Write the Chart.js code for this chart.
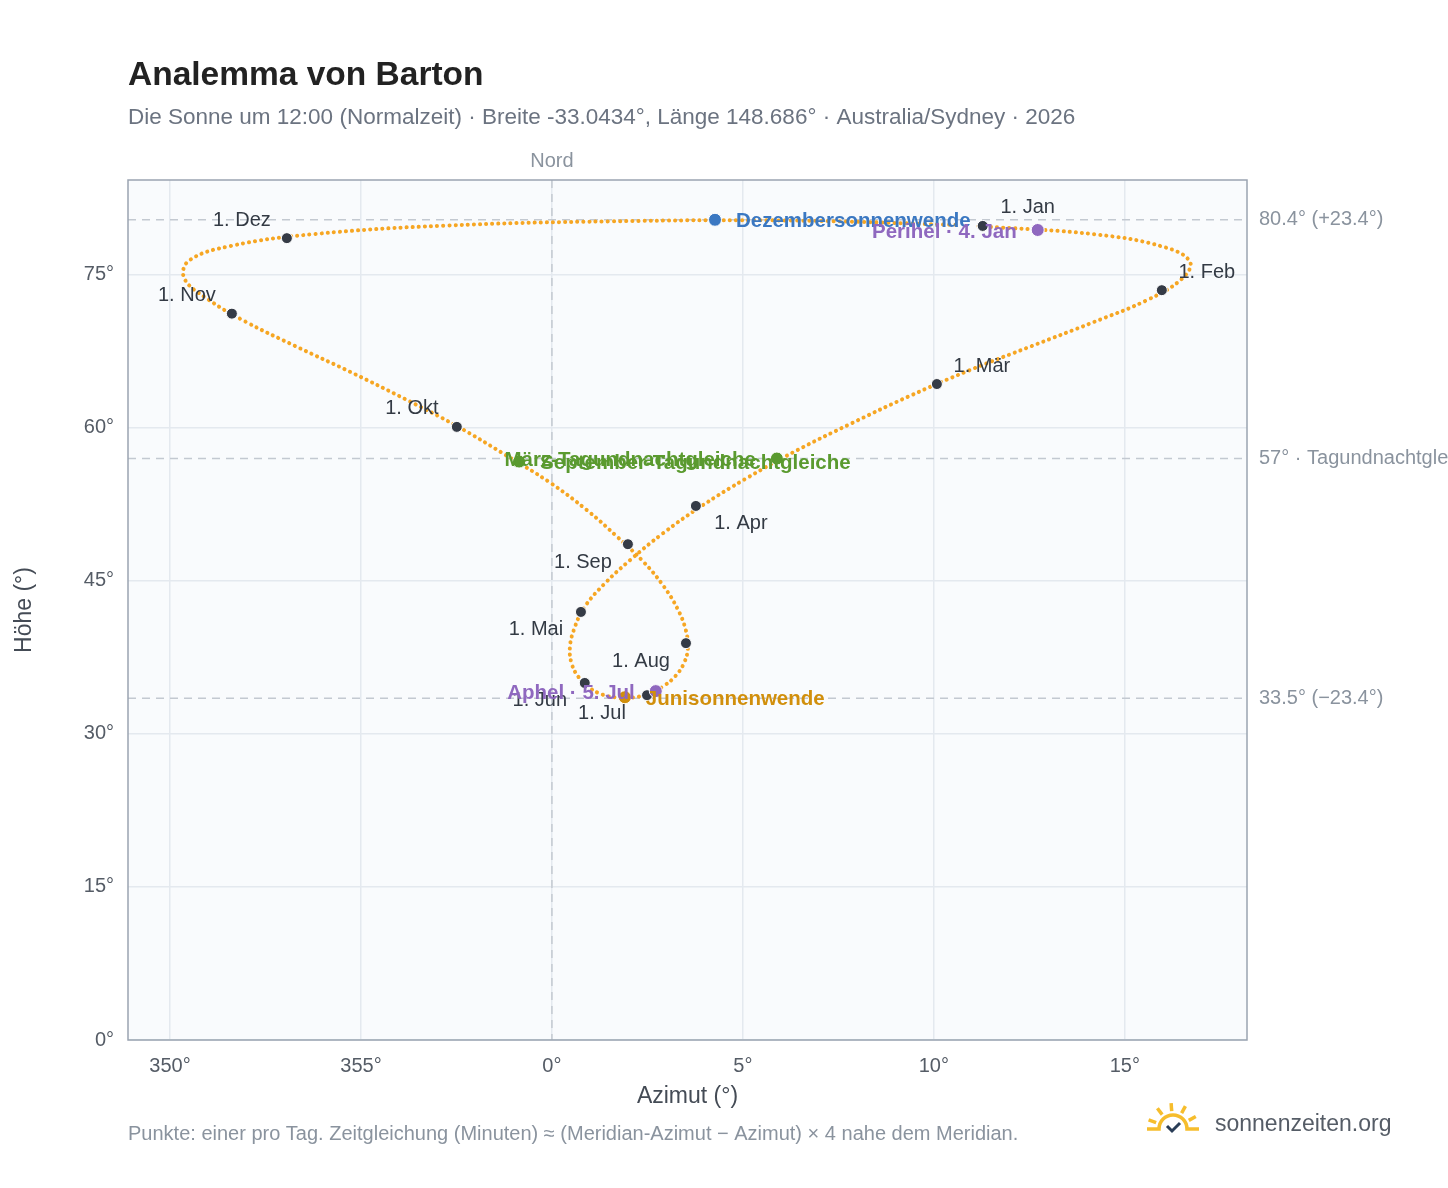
<!DOCTYPE html>
<html>
<head>
<meta charset="utf-8">
<script src="https://cdn.jsdelivr.net/npm/chart.js@4.4.1/dist/chart.umd.min.js"></script>
<style>
  html, body { margin: 0; padding: 0; background: #fff; }
  #wrap { width: 1448px; height: 1188px; }
</style>
</head>
<body>
<div id="wrap"><canvas id="chart" width="1448" height="1188"></canvas></div>
<script>
// Sun position at 12:00, weekly samples (azimuth signed: negative = west of north)
const sampleDates = ["1.1","8.1","15.1","22.1","29.1","5.2","12.2","19.2","26.2","5.3","12.3","19.3","26.3",
  "2.4","9.4","16.4","23.4","30.4","7.5","14.5","21.5","28.5","4.6","11.6","18.6","25.6",
  "2.7","9.7","16.7","23.7","30.7","6.8","13.8","20.8","27.8","3.9","10.9","17.9","24.9",
  "1.10","8.10","15.10","22.10","29.10","5.11","12.11","19.11","26.11","3.12","10.12","17.12","24.12","31.12"];
const azimuth = [11.17,14.23,16.04,16.71,16.47,15.58,14.17,12.56,10.92,9.34,7.84,6.42,5.09,
  3.90,2.89,2.05,1.36,0.84,0.58,0.47,0.52,0.70,0.97,1.32,1.72,2.11,
  2.54,2.91,3.23,3.46,3.56,3.50,3.29,2.93,2.40,1.70,0.91,-0.06,-1.22,
  -2.48,-3.83,-5.27,-6.73,-8.02,-9.03,-9.63,-9.50,-8.39,-6.25,-2.79,1.57,6.24,10.62];
const altitude = [79.78,78.97,77.72,76.25,74.53,72.52,70.35,68.02,65.63,63.08,60.44,57.81,55.05,
  52.30,49.62,47.05,44.66,42.36,40.26,38.46,36.86,35.56,34.56,33.86,33.56,33.56,
  33.96,34.66,35.66,36.96,38.46,40.26,42.26,44.46,46.86,49.36,51.96,54.66,57.36,
  60.16,62.80,65.47,68.04,70.41,72.67,74.69,76.41,77.85,78.99,79.83,80.25,80.33,79.90];

// first of each month
const monthLabels = ["1. Jan","1. Feb","1. Mär","1. Apr","1. Mai","1. Jun","1. Jul","1. Aug","1. Sep","1. Okt","1. Nov","1. Dez"];
const monthAz = [11.28,15.97,10.08,3.77,0.76,0.86,2.49,3.51,1.99,-2.49,-8.38,-6.94];
const monthAlt = [79.8,73.5,64.3,52.35,41.96,35.0,33.8,38.9,48.6,60.1,71.2,78.6];
const monthSide = [[1,-1],[1,-1],[1,-1],[1,1],[-1,1],[-1,1],[-1,1],[-1,1],[-1,1],[-1,-1],[-1,-1],[-1,-1]];

// special events
const eventLabels = ["Dezembersonnenwende","Perihel · 4. Jan","März-Tagundnachtgleiche","September-Tagundnachtgleiche","Aphel · 5. Jul","Junisonnenwende"];
const eventAz = [4.27,12.72,5.89,-0.86,2.72,1.91];
const eventAlt = [80.4,79.4,57.0,56.7,34.2,33.6];
const eventColors = ["#3b78c2","#8f68bf","#5a9a2f","#5a9a2f","#8f68bf","#d18f0c"];
const eventAlign = ["left","right","right","left","right","left"];

// reference lines
const refAlt = [80.4, 57.0, 33.5];
const refText = ["80.4° (+23.4°)", "57° · Tagundnachtgleiche", "33.5° (−23.4°)"];

const FONT = "'Liberation Sans', Arial, sans-serif";

const decor = {
  id: "decor",
  beforeDraw(chart) {
    const { ctx, chartArea: a } = chart;
    ctx.save();
    ctx.fillStyle = "#f9fbfd";
    ctx.fillRect(a.left, a.top, a.right - a.left, a.bottom - a.top);
    ctx.restore();
  },
  beforeDatasetsDraw(chart) {
    const { ctx, chartArea: a, scales: { x, y } } = chart;
    ctx.save();
    ctx.strokeStyle = "#c3c9d1";
    ctx.lineWidth = 1.5;
    ctx.setLineDash([8, 6]);
    refAlt.forEach(v => {
      const py = y.getPixelForValue(v);
      ctx.beginPath(); ctx.moveTo(a.left, py); ctx.lineTo(a.right, py); ctx.stroke();
    });
    const px0 = x.getPixelForValue(0);
    ctx.beginPath(); ctx.moveTo(px0, a.top); ctx.lineTo(px0, a.bottom); ctx.stroke();
    ctx.setLineDash([]);
    ctx.strokeStyle = "#9aa4b1";
    ctx.lineWidth = 1.5;
    ctx.strokeRect(a.left, a.top, a.right - a.left, a.bottom - a.top);

    ctx.fillStyle = "#8a939e";
    ctx.font = "20px " + FONT;
    ctx.textBaseline = "middle";
    ctx.textAlign = "left";
    refAlt.forEach((v, i) => ctx.fillText(refText[i], a.right + 12, y.getPixelForValue(v)));
    ctx.textAlign = "center";
    ctx.fillText("Nord", px0, a.top - 19);
    ctx.restore();
  },
  afterDatasetsDraw(chart) {
    const { ctx, chartArea: a, scales: { x, y } } = chart;
    ctx.save();
    ctx.textBaseline = "middle";
    ctx.textAlign = "center";
    ctx.font = "20px " + FONT;
    ctx.fillStyle = "#333a44";
    monthLabels.forEach((t, i) => {
      const px = x.getPixelForValue(monthAz[i]), py = y.getPixelForValue(monthAlt[i]);
      ctx.fillText(t, px + monthSide[i][0] * 45, py + monthSide[i][1] * 18);
    });
    ctx.font = "bold 20.5px " + FONT;
    eventLabels.forEach((t, i) => {
      const px = x.getPixelForValue(eventAz[i]), py = y.getPixelForValue(eventAlt[i]);
      ctx.fillStyle = eventColors[i];
      ctx.textAlign = eventAlign[i];
      ctx.fillText(t, px + (eventAlign[i] === "left" ? 21 : -21), py + 2);
    });

    // titles and texts
    ctx.textAlign = "left";
    ctx.textBaseline = "alphabetic";
    ctx.fillStyle = "#222";
    ctx.font = "bold 33.5px " + FONT;
    ctx.fillText("Analemma von Barton", 128, 85);
    ctx.fillStyle = "#6b7380";
    ctx.font = "22.5px " + FONT;
    ctx.fillText("Die Sonne um 12:00 (Normalzeit) · Breite -33.0434°, Länge 148.686° · Australia/Sydney · 2026", 128, 124);

    ctx.fillStyle = "#444b55";
    ctx.font = "23px " + FONT;
    ctx.textAlign = "center";
    ctx.textBaseline = "middle";
    ctx.fillText("Azimut (°)", (a.left + a.right) / 2, 1097);
    ctx.save();
    ctx.translate(25, (a.top + a.bottom) / 2);
    ctx.rotate(-Math.PI / 2);
    ctx.fillText("Höhe (°)", 0, 0);
    ctx.restore();

    ctx.textAlign = "left";
    ctx.fillStyle = "#8a939e";
    ctx.font = "20px " + FONT;
    ctx.fillText("Punkte: einer pro Tag. Zeitgleichung (Minuten) ≈ (Meridian-Azimut − Azimut) × 4 nahe dem Meridian.", 128, 1134);

    // logo
    ctx.fillStyle = "#555c66";
    ctx.font = "23px " + FONT;
    ctx.fillText("sonnenzeiten.org", 1215, 1125);
    const cx = 1173, cy = 1129;
    ctx.strokeStyle = "#f6bd2c";
    ctx.lineWidth = 3.5;
    ctx.beginPath();
    ctx.moveTo(cx - 26, cy); ctx.lineTo(cx - 14, cy);
    ctx.arc(cx, cy, 14, Math.PI, 2 * Math.PI);
    ctx.lineTo(cx + 26, cy);
    ctx.stroke();
    for (let k = 0; k <= 4; k++) {
      const ang = Math.PI + (k + 0.5) * Math.PI / 5.5 + 0.07;
      ctx.beginPath();
      ctx.moveTo(cx + Math.cos(ang) * 18, cy + Math.sin(ang) * 18);
      ctx.lineTo(cx + Math.cos(ang) * 26, cy + Math.sin(ang) * 26);
      ctx.stroke();
    }
    ctx.strokeStyle = "#2a3d57";
    ctx.lineWidth = 3;
    ctx.beginPath(); ctx.moveTo(cx - 6, cy - 3); ctx.lineTo(cx - 1, cy + 2); ctx.lineTo(cx + 7, cy - 6); ctx.stroke();
    ctx.restore();
  }
};

const toXY = (xs, ys) => xs.map((v, i) => ({ x: v, y: ys[i] }));

new Chart(document.getElementById("chart"), {
  type: "scatter",
  data: {
    datasets: [
      {
        data: toXY(azimuth, altitude),
        showLine: true,
        tension: 0.4,
        borderColor: "#f6a623",
        borderWidth: 4,
        borderDash: [0.1, 6],
        borderCapStyle: "round",
        pointRadius: 0,
        order: 3
      },
      {
        data: toXY(monthAz, monthAlt),
        pointRadius: 5.5,
        pointBackgroundColor: "#353b46",
        pointBorderColor: "#ffffff",
        pointBorderWidth: 1,
        order: 2
      },
      {
        data: toXY(eventAz, eventAlt),
        pointRadius: 6.5,
        pointBackgroundColor: eventColors,
        pointBorderColor: "#ffffff",
        pointBorderWidth: 1,
        order: 1
      }
    ]
  },
  options: {
    responsive: false,
    animation: false,
    layout: { padding: { top: 180, right: 201, left: 0, bottom: 0 } },
    plugins: { legend: { display: false }, tooltip: { enabled: false } },
    scales: {
      x: {
        type: "linear",
        min: -11.1,
        max: 18.2,
        afterFit: s => { s.height = 148; },
        grid: { color: "#e4e9ef", lineWidth: 1.5, drawTicks: false },
        border: { display: false },
        ticks: {
          stepSize: 5,
          includeBounds: false,
          padding: 14,
          color: "#555c66",
          font: { size: 20, family: FONT },
          callback: v => (v < 0 ? 360 + v : v) + "°"
        }
      },
      y: {
        type: "linear",
        min: 0,
        max: 84.3,
        afterFit: s => { s.width = 128; },
        grid: { color: "#e4e9ef", lineWidth: 1.5, drawTicks: false },
        border: { display: false },
        ticks: {
          stepSize: 15,
          includeBounds: false,
          padding: 14,
          color: "#555c66",
          font: { size: 20, family: FONT },
          callback: v => v + "°"
        }
      }
    }
  },
  plugins: [decor]
});
</script>
</body>
</html>
